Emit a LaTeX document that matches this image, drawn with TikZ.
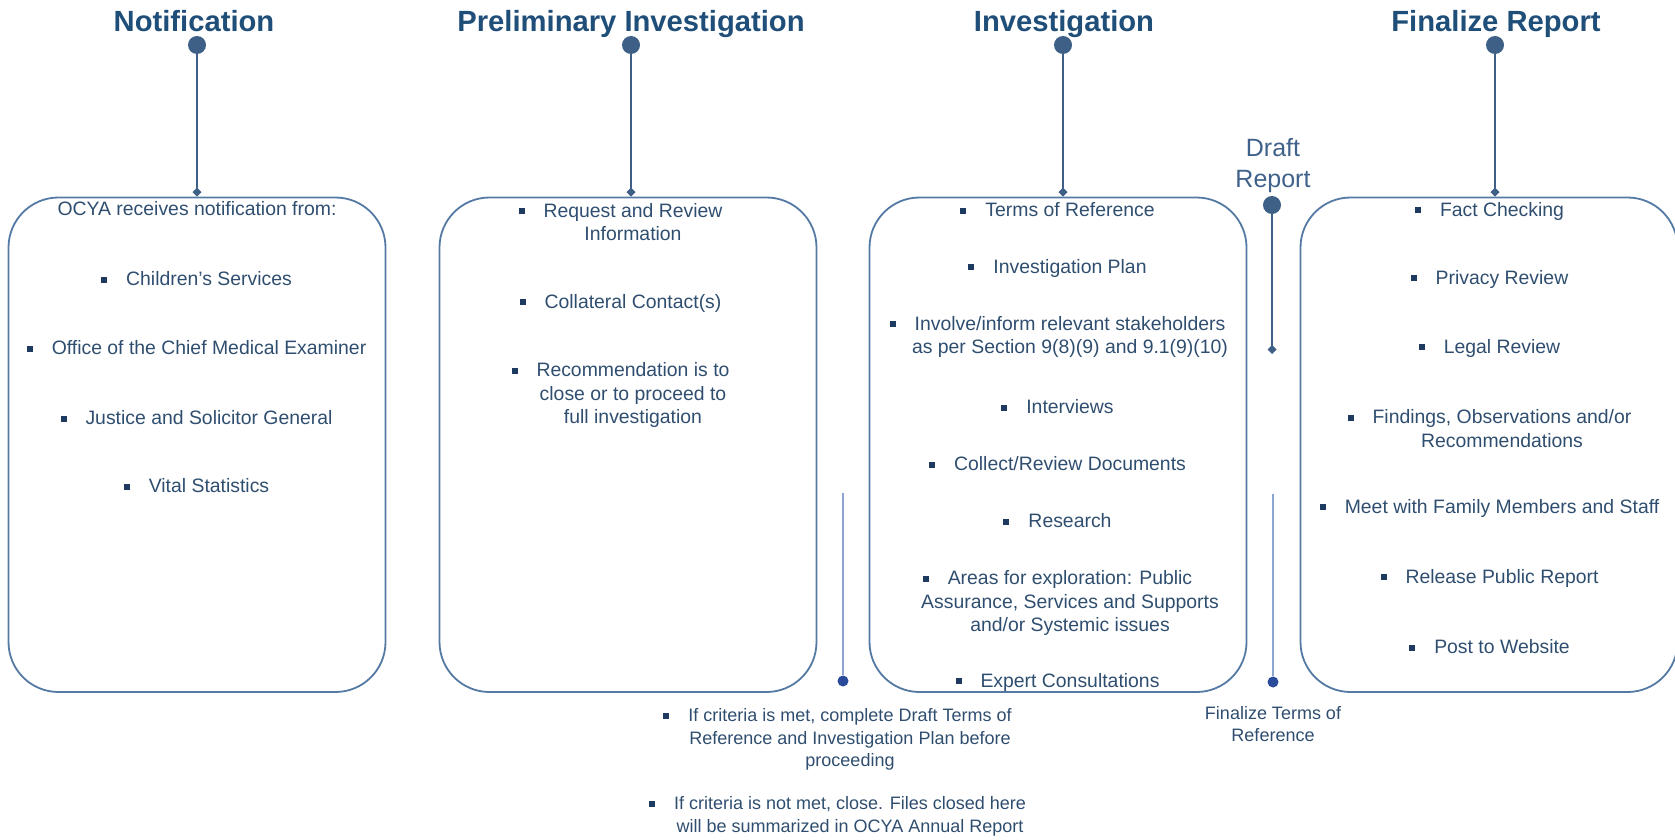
\documentclass[tikz,border=0pt]{standalone}
\usepackage{fontspec}
\setmainfont{Liberation Sans}
\usetikzlibrary{arrows.meta, positioning}
\definecolor{headblue}{HTML}{1F4E79}
\definecolor{textblue}{HTML}{2F4E6F}
\definecolor{boxblue}{HTML}{5479A3}
\definecolor{dotblue}{HTML}{3E5F86}
\definecolor{gateblue}{HTML}{2A4A9A}
\definecolor{gateline}{HTML}{8CA5D2}
\definecolor{bulletblue}{HTML}{1F3A60}
\definecolor{draftblue}{HTML}{40618A}
% hanging square bullet in front of the first line
\newcommand{\sqb}{\llap{\textcolor{bulletblue}{\rule[1.4pt]{3pt}{3pt}}\hspace{9.5pt}}}

\begin{document}
\begin{tikzpicture}[
  x=0.5pt, y=-0.5pt,
  phase/.style={font=\bfseries\fontsize{14.6}{17}\selectfont, text=headblue, anchor=base, inner sep=0pt},
  milestone/.style={circle, fill=dotblue, inner sep=0pt, minimum size=9pt},
  stagebox/.style={
    rectangle, draw=boxblue, line width=0.9pt, rounded corners=25pt,
    minimum width=188.5pt, minimum height=247.25pt, inner sep=0pt
  },
  entry/.style={font=\fontsize{9.7}{11.75}\selectfont, text=textblue, align=center, inner sep=0pt},
  note/.style={font=\fontsize{9}{11.25}\selectfont, text=textblue, align=center, inner sep=0pt},
  link/.style={draw=dotblue, line width=1pt, -{Diamond[length=4.5pt, width=4.5pt]}},
  gate/.style={circle, fill=gateblue, inner sep=0pt, minimum size=5.5pt},
  gatelink/.style={draw=gateline, line width=0.7pt},
]
\useasboundingbox (0,0) rectangle (1675,840);

% Phase headers and milestones
\node[phase] (hnotif) at (194,32) {Notification};
\node[phase] (hprelim) at (631,32) {Preliminary Investigation};
\node[phase] (hinv) at (1064,32) {Investigation};
\node[phase] (hfinal) at (1496,32) {Finalize Report};

\node[milestone] (mnotif) at (197,45) {};
\node[milestone] (mprelim) at (631,45) {};
\node[milestone] (minv) at (1063,45) {};
\node[milestone] (mfinal) at (1495,45) {};

% Stage boxes
\node[stagebox] (bnotif) at (197,444.75) {};
\node[stagebox] (bprelim) at (628,444.75) {};
\node[stagebox] (binv) at (1058,444.75) {};
\node[stagebox] (bfinal) at (1489,444.75) {};

\draw[link] (mnotif) -- (mnotif |- bnotif.north);
\draw[link] (mprelim) -- (mprelim |- bprelim.north);
\draw[link] (minv) -- (minv |- binv.north);
\draw[link] (mfinal) -- (mfinal |- bfinal.north);

% Notification items
\node[entry] (nfrom) at (197,209) {OCYA receives notification from:};
\node[entry] (ncs) at (209,279) {\sqb Children’s Services};
\node[entry] (nocme) at (209,348) {\sqb Office of the Chief Medical Examiner};
\node[entry] (njsg) at (209,418) {\sqb Justice and Solicitor General};
\node[entry] (nvs) at (209,486) {\sqb Vital Statistics};

% Preliminary investigation items
\node[entry] (preq) at (633,222) {\sqb Request and Review\\Information};
\node[entry] (pcoll) at (633,303) {\sqb Collateral Contact(s)};
\node[entry] (prec) at (633,395) {\sqb Recommendation is to\\close or to proceed to\\full investigation};

% Investigation items
\node[entry] (itor) at (1070,210) {\sqb Terms of Reference};
\node[entry] (iplan) at (1070,268) {\sqb Investigation Plan};
\node[entry] (istake) at (1070,337) {\sqb Involve/inform relevant stakeholders\\as per Section 9(8)(9) and 9.1(9)(10)};
\node[entry] (iint) at (1070,407) {\sqb Interviews};
\node[entry] (idocs) at (1070,464) {\sqb Collect/Review Documents};
\node[entry] (ires) at (1070,521) {\sqb Research};
\node[entry] (iareas) at (1070,603) {\sqb Areas for exploration: Public\\Assurance, Services and Supports\\and/or Systemic issues};
\node[entry] (iexp) at (1070,682) {\sqb Expert Consultations};

% Finalize report items
\node[entry] (ffact) at (1502,211) {\sqb Fact Checking};
\node[entry] (fpriv) at (1502,279) {\sqb Privacy Review};
\node[entry] (flegal) at (1502,348) {\sqb Legal Review};
\node[entry] (ffind) at (1502,428.5) {\sqb Findings, Observations and/or\\Recommendations};
\node[entry] (fmeet) at (1502,508) {\sqb Meet with Family Members and Staff};
\node[entry] (frel) at (1502,578) {\sqb Release Public Report};
\node[entry] (fpost) at (1502,647) {\sqb Post to Website};

% Draft report milestone between investigation and finalize
\node[font=\fontsize{12.5}{15.5}\selectfont, text=draftblue, align=center, inner sep=0pt] (hdraft) at (1273,166) {Draft\\Report};
\node[milestone] (mdraft) at (1272,205) {};
\coordinate (ddraft) at (1272,354);
\draw[link] (mdraft) -- (ddraft);

% Decision gates at the bottom
\coordinate (tprelim) at (843,493);
\node[gate] (gprelim) at (843,681) {};
\draw[gatelink] (tprelim) -- (gprelim);

\coordinate (tdraft) at (1273,494);
\node[gate] (gdraft) at (1273,682) {};
\draw[gatelink] (tdraft) -- (gdraft);

\node[note] (qmet) at (850,739.5) {\sqb If criteria is met, complete Draft Terms of\\Reference and Investigation Plan before\\proceeding};
\node[note] (qnot) at (850,816.5) {\sqb If criteria is not met, close. Files closed here\\will be summarized in OCYA Annual Report};
\node[note, font=\fontsize{9}{11}\selectfont] (qfinal) at (1273,724) {Finalize Terms of\\Reference};
\end{tikzpicture}
\end{document}
